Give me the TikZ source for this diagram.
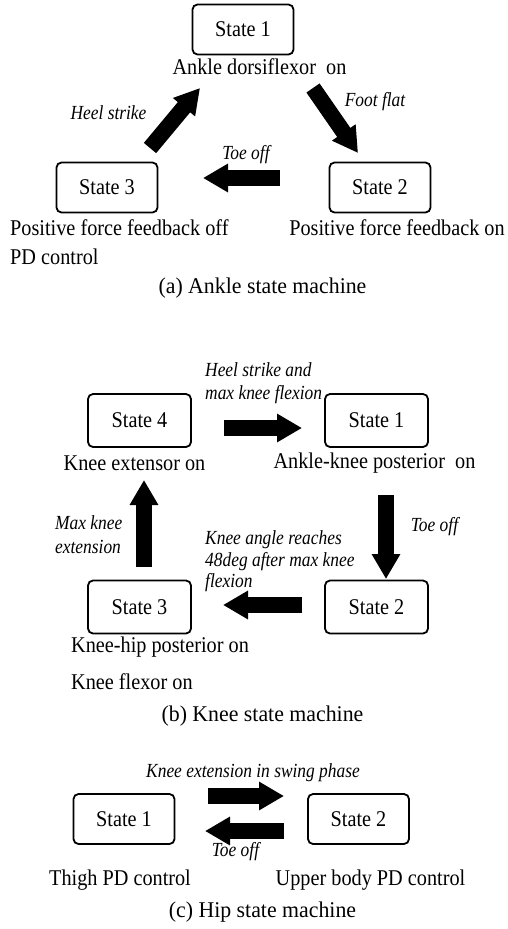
\documentclass[tikz,border=0pt]{standalone}
\usepackage{fontspec}
\setmainfont{Liberation Serif}
\newfontfamily\narrowrm{Liberation Serif}[FakeStretch=0.9]
\newfontfamily\narrowit{Liberation Serif}[FakeStretch=0.87]
\newfontfamily\capfont{Liberation Serif}[FakeStretch=0.97]
\usetikzlibrary{arrows.meta}
\newcommand{\blockarrowtip}{-{Triangle[length=25pt,width=27pt]}}

\begin{document}
\begin{tikzpicture}[
    x=1pt, y=-1pt,
    font=\narrowrm\fontsize{22.5}{29}\selectfont,
    statebox/.style={draw, line width=1.8pt, rounded corners=5pt, minimum width=101pt, minimum height=50pt, inner sep=0pt},
    bigbox/.style={statebox, minimum width=103pt, minimum height=53pt},
    trans/.style={\blockarrowtip, line width=16pt},
    cond/.style={font=\narrowit\itshape\fontsize{20}{23}\selectfont, inner sep=0pt, align=left},
    note/.style={inner sep=0pt, align=left},
    caption/.style={font=\capfont\fontsize{22.5}{27}\selectfont, inner sep=0pt}
]
  \useasboundingbox (0,0) rectangle (507,929);

  % (a) ankle
  \node[statebox] (a-s1) at (243,29.5) {State 1};
  \node[statebox] (a-s2) at (380,187.5) {State 2};
  \node[statebox] (a-s3) at (107,187.5) {State 3};
  \node[note] (a-t1) at (259.5,67) {Ankle dorsiflexor\ \ on};
  \node[note] (a-t2) at (397,228) {Positive force feedback on};
  \node[note, anchor=west] (a-t3) at (10,242.5) {Positive force feedback off\\PD control};
  \node[caption] (a-cap) at (262.5,288) {(a) Ankle state machine};

  \coordinate (a-h0) at (150,148);
  \coordinate (a-h1) at (200,88);
  \coordinate (a-f0) at (313,88);
  \coordinate (a-f1) at (358,153);
  \coordinate (a-o0) at (280,178);
  \coordinate (a-o1) at (203,178);
  \draw[trans] (a-h0) -- (a-h1);
  \draw[trans] (a-f0) -- (a-f1);
  \draw[trans] (a-o0) -- (a-o1);
  \node[cond] (a-heel) at (108.5,113) {Heel strike};
  \node[cond] (a-foot) at (375,102) {Foot flat};
  \node[cond] (a-toe) at (246,155) {Toe off};

  % (b) knee
  \node[bigbox] (b-s4) at (139.5,420.5) {State 4};
  \node[bigbox] (b-s1) at (376.5,420.5) {State 1};
  \node[bigbox] (b-s2) at (376.5,607) {State 2};
  \node[bigbox] (b-s3) at (139.5,607) {State 3};
  \node[note] (b-t4) at (134.5,463) {Knee extensor on};
  \node[note] (b-t1) at (374.5,463) {Ankle-knee posterior\ \ on};
  \node[note, anchor=west] (b-t3) at (71,647) {Knee-hip posterior on};
  \node[note, anchor=west] (b-t3b) at (71,682) {Knee flexor on};
  \node[caption] (b-cap) at (262.5,716) {(b) Knee state machine};

  \coordinate (b-41a) at (224,428);
  \coordinate (b-41b) at (302,428);
  \coordinate (b-12a) at (386,495);
  \coordinate (b-12b) at (386,579);
  \coordinate (b-23a) at (302,605);
  \coordinate (b-23b) at (223,605);
  \coordinate (b-34a) at (144,567);
  \coordinate (b-34b) at (144,480);
  \draw[trans] (b-41a) -- (b-41b);
  \draw[trans] (b-12a) -- (b-12b);
  \draw[trans] (b-23a) -- (b-23b);
  \draw[trans] (b-34a) -- (b-34b);
  \node[cond, anchor=west] (b-heel) at (205,383.5) {Heel strike and\\max knee flexion};
  \node[cond] (b-toe) at (434.5,527) {Toe off};
  \node[cond, anchor=west, font=\narrowit\itshape\fontsize{20}{21.5}\selectfont] (b-angle) at (205,561.5) {Knee angle reaches\\48deg after max knee\\flexion};
  \node[cond, anchor=west, font=\narrowit\itshape\fontsize{20}{24}\selectfont] (b-max) at (55,535) {Max knee\\extension};

  % (c) hip
  \node[statebox] (c-s1) at (124,819) {State 1};
  \node[statebox] (c-s2) at (358.5,819) {State 2};
  \node[note] (c-t1) at (120,880) {Thigh PD control};
  \node[note] (c-t2) at (370.5,880) {Upper body PD control};
  \node[caption] (c-cap) at (262.5,912) {(c) Hip state machine};

  \coordinate (c-12a) at (208,796);
  \coordinate (c-12b) at (284,796);
  \coordinate (c-21a) at (284,831);
  \coordinate (c-21b) at (205,831);
  \draw[trans] (c-12a) -- (c-12b);
  \draw[trans] (c-21a) -- (c-21b);
  \node[cond] (c-knee) at (253,773) {Knee extension in swing phase};
  \node[cond] (c-toe) at (235.5,852) {Toe off};
\end{tikzpicture}
\end{document}
